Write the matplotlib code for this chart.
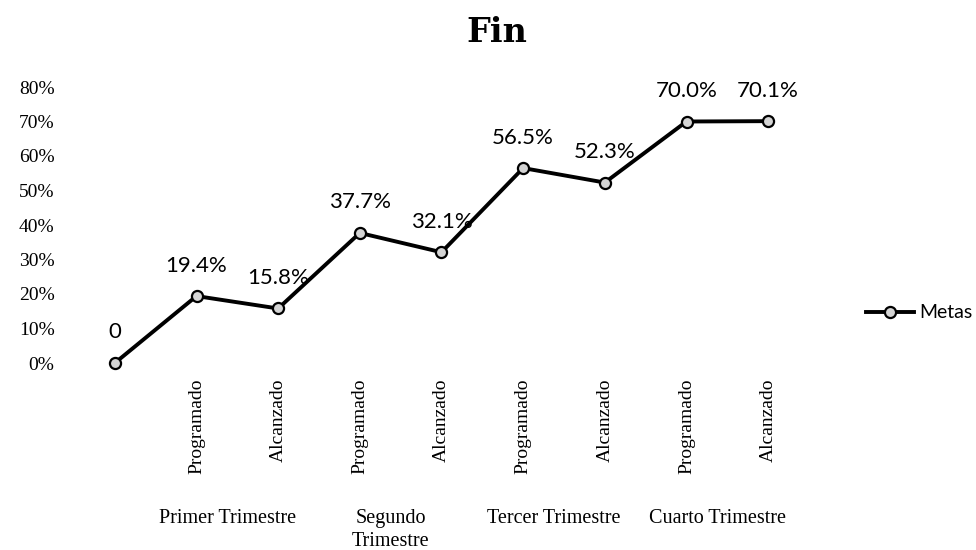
import matplotlib
matplotlib.use("Agg")
import matplotlib.pyplot as plt
from matplotlib.transforms import blended_transform_factory

# ---- data ----
stages = ["", "Programado", "Alcanzado", "Programado", "Alcanzado",
          "Programado", "Alcanzado", "Programado", "Alcanzado"]
values = [0.0, 0.194, 0.158, 0.377, 0.321, 0.565, 0.523, 0.700, 0.701]
point_labels = ["0", "19.4%", "15.8%", "37.7%", "32.1%", "56.5%", "52.3%", "70.0%", "70.1%"]
groups = ["Primer Trimestre", "Segundo\nTrimestre", "Tercer Trimestre", "Cuarto Trimestre"]
group_members = [(1, 2), (3, 4), (5, 6), (7, 8)]
yticks = [0.0, 0.1, 0.2, 0.3, 0.4, 0.5, 0.6, 0.7, 0.8]
series_name = "Metas"
title = "Fin"

W, H = 976, 550
fig = plt.figure(figsize=(W / 100, H / 100), dpi=100)
ax = fig.add_axes([74 / W, (H - 363) / H, (809 - 74) / W, (363 - 87) / H])

x = list(range(len(values)))
line, = ax.plot(x, values, color="black", lw=2.8, marker="o", markersize=8,
                markerfacecolor="#d4d4d4", markeredgecolor="black",
                markeredgewidth=1.6, clip_on=False, zorder=3, label=series_name)

for xi, v, lab in zip(x, values, point_labels):
    ax.annotate(lab, (xi, v), xytext=(0, 22), textcoords="offset points",
                ha="center", va="center", fontsize=16, family="Lato", color="black")

ax.set_xlim(-0.5, len(values) - 0.5)
ax.set_ylim(0, 0.8)
ax.set_yticks(yticks)
ax.set_yticklabels([f"{int(round(t * 100))}%" for t in yticks],
                   family="Liberation Serif", fontsize=14)
ax.set_xticks(x)
ax.set_xticklabels(stages, rotation=90, family="Liberation Serif", fontsize=14,
                   va="top", ha="center")
ax.tick_params(axis="both", length=0)
ax.tick_params(axis="x", pad=11)
ax.tick_params(axis="y", pad=14)
for s in ax.spines.values():
    s.set_visible(False)

tr = blended_transform_factory(ax.transData, fig.transFigure)
for g, (a, b) in zip(groups, group_members):
    ax.text((a + b) / 2 - 0.12, (H - 509) / H, g, transform=tr, ha="center", va="top",
            family="Liberation Serif", fontsize=14.5, linespacing=1.3)

fig.text(497 / W, 1 - 33 / H, title, ha="center", va="center",
         family="DejaVu Serif", fontweight="bold", fontsize=24)

leg = fig.legend(handles=[line], loc="center left", bbox_to_anchor=(856 / W, 1 - 313 / H),
                 frameon=False, prop={"family": "Lato", "size": 14},
                 handlelength=2.5, handletextpad=0.25, borderpad=0)

fig.savefig("out.png", dpi=100)
